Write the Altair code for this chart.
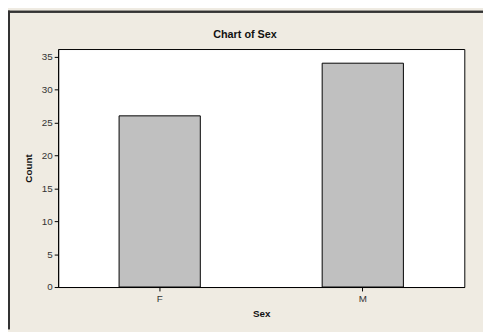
import altair as alt
import pandas as pd

categories = ["F", "M"]
counts = [26, 34]
title_text = ["Chart of Sex"]

df = pd.DataFrame({"Sex": categories, "Count": counts})
tdf = pd.DataFrame({"t": title_text})

FONT = "Liberation Sans"
BG = "#EFEBE2"

bars = alt.Chart(df).mark_bar(color="#C0C0C0", stroke="black", strokeWidth=1).encode(
    x=alt.X("Sex:N", sort=categories,
            scale=alt.Scale(paddingInner=0.6, paddingOuter=0.3),
            axis=alt.Axis(title="Sex", labelAngle=0, domainColor="black", tickColor="black",
                          tickSize=4, labelColor="#333333", labelFontSize=10, labelFont=FONT,
                          titleFont=FONT, titleFontSize=10, titleFontWeight="bold",
                          titleColor="#111111", labelPadding=3, titlePadding=5)),
    y=alt.Y("Count:Q", scale=alt.Scale(domain=[0, 36.15], nice=False),
            axis=alt.Axis(title="Count", values=[0, 5, 10, 15, 20, 25, 30, 35], grid=False,
                          domainColor="black", tickColor="black", tickSize=4,
                          labelColor="#333333", labelFontSize=10, labelFont=FONT,
                          titleFont=FONT, titleFontSize=10, titleFontWeight="bold",
                          titleColor="#111111", labelPadding=2, titlePadding=8)),
)

title = alt.Chart(tdf).mark_text(font=FONT, fontSize=11, fontWeight="bold", color="#111111",
                                 align="center", baseline="alphabetic", clip=False).encode(
    text="t:N", x=alt.value(190), y=alt.value(-11)
)

top_border = alt.Chart(df).mark_rule(color="#333333", strokeWidth=2, clip=False).encode(
    x=alt.value(-51), x2=alt.value(432), y=alt.value(-38)
)
left_border = alt.Chart(df).mark_rule(color="#333333", strokeWidth=2, clip=False).encode(
    x=alt.value(-50), y=alt.value(-39), y2=alt.value(285)
)

chart = alt.layer(bars, title, top_border, left_border).properties(
    width=413, height=242,
    background=BG,
    padding={"left": 51, "top": 39, "right": 19, "bottom": 43},
    autosize=alt.AutoSizeParams(type="none"),
).configure_view(stroke="black", strokeWidth=1, fill="white")

chart.save("out.html", embed_options={"renderer": "svg", "actions": False})
